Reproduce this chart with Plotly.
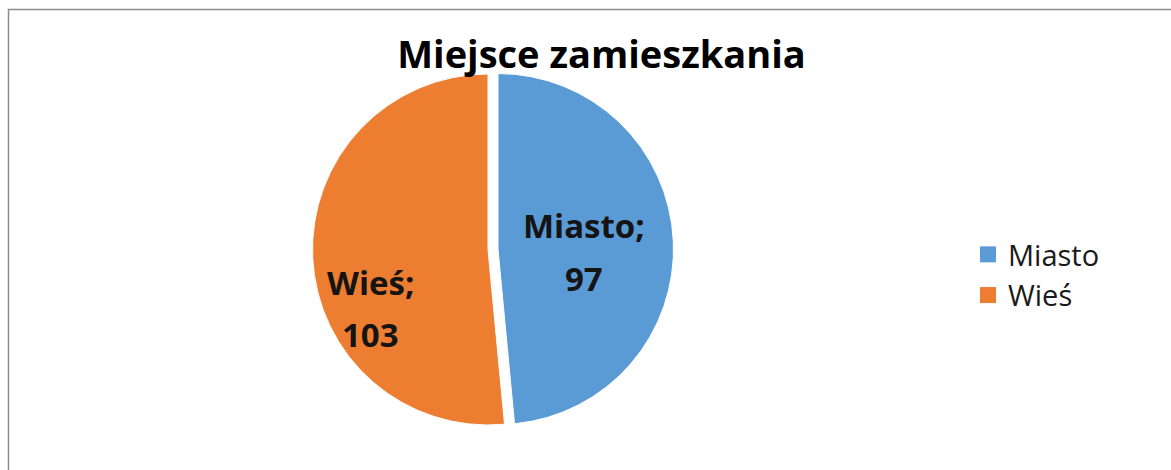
import plotly.graph_objects as go

labels = ["Miasto", "Wieś"]
values = [97, 103]
colors = ["#5B9BD5", "#ED7D31"]
pulls = [0.057, 0]
title_text = "Miejsce zamieszkania"

W, H = 1171, 470
cx, cy, half = 488, 249.5, 185.5

fig = go.Figure()
fig.add_trace(go.Pie(
    labels=labels,
    values=values,
    marker=dict(colors=colors, line=dict(color="white", width=1)),
    pull=pulls,
    sort=False,
    direction="clockwise",
    rotation=0,
    textinfo="none",
    hoverinfo="label+value",
    showlegend=False,
    domain=dict(x=[(cx - half) / W, (cx + half) / W],
                y=[(H - (cy + half)) / H, (H - (cy - half)) / H]),
))

# legend entries with larger square symbols
for lab, col in zip(labels, colors):
    fig.add_trace(go.Scatter(x=[None], y=[None], mode="markers", name=lab,
                             marker=dict(symbol="square", size=21, color=col),
                             hoverinfo="skip"))

# data labels ("label;" / "value") placed like the reference
label_pos = [(584, 226, 278), (370, 282, 334)]  # pixel centres (style, not data)
annotations = []
for lab, val, (px, py1, py2) in zip(labels, values, label_pos):
    for txt, py in ((f"{lab};", py1), (f"{val}", py2)):
        annotations.append(dict(
            text=f"<b>{txt}</b>", x=px / W, y=1 - py / H,
            xref="paper", yref="paper", xanchor="center", yanchor="middle",
            showarrow=False, align="center",
            font=dict(family="Open Sans", size=33, color="#141414"),
        ))

fig.update_layout(
    width=W, height=H,
    margin=dict(l=0, r=0, t=0, b=0),
    paper_bgcolor="white",
    plot_bgcolor="white",
    xaxis=dict(visible=False),
    yaxis=dict(visible=False),
    title=dict(text=f"<b>{title_text}</b>", x=601.5 / W, xanchor="center",
               y=1 - 55 / H, yanchor="middle",
               font=dict(family="Open Sans", size=38, color="black")),
    showlegend=True,
    legend=dict(x=968 / W, xanchor="left", y=1 - 275 / H, yanchor="middle",
                font=dict(family="Open Sans", size=29, color="#1a1a1a"),
                bgcolor="rgba(0,0,0,0)"),
    annotations=annotations,
    shapes=[
        dict(type="rect", xref="paper", yref="paper",
             x0=8.5 / W, x1=1.05, y0=-0.05, y1=1 - 9.5 / H,
             line=dict(color="#8c8c8c", width=1.5), fillcolor="rgba(0,0,0,0)"),
    ],
)

fig.write_html("out.html", config={"displayModeBar": False},
               post_script="document.body.style.margin='0';document.body.style.overflow='hidden';")
